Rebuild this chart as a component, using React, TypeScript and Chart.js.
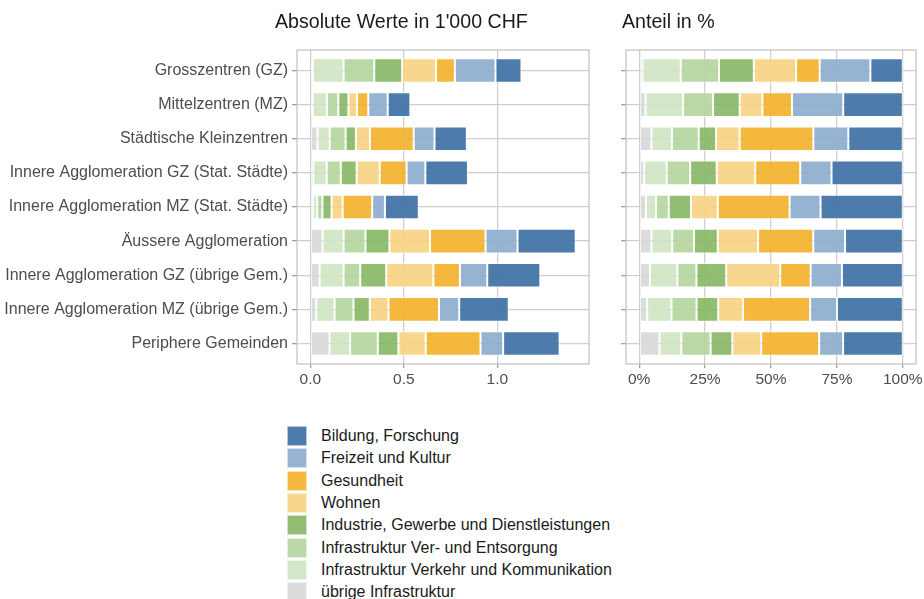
import React, { useEffect, useRef } from "react";
import { Chart, registerables } from "chart.js";

Chart.register(...registerables);

// ---------- data ----------
const categories = [
  "Grosszentren (GZ)",
  "Mittelzentren (MZ)",
  "Städtische Kleinzentren",
  "Innere Agglomeration GZ (Stat. Städte)",
  "Innere Agglomeration MZ (Stat. Städte)",
  "Äussere Agglomeration",
  "Innere Agglomeration GZ (übrige Gem.)",
  "Innere Agglomeration MZ (übrige Gem.)",
  "Periphere Gemeinden",
];

// stack order (left to right)
const seriesNames = [
  "übrige Infrastruktur",
  "Infrastruktur Verkehr und Kommunikation",
  "Infrastruktur Ver- und Entsorgung",
  "Industrie, Gewerbe und Dienstleistungen",
  "Wohnen",
  "Gesundheit",
  "Freizeit und Kultur",
  "Bildung, Forschung",
];

// values in 1'000 CHF, per category
const uebrige = [0.014, 0.013, 0.039, 0.016, 0.015, 0.066, 0.05, 0.032, 0.103];
const verkehr = [0.164, 0.076, 0.065, 0.072, 0.022, 0.112, 0.128, 0.098, 0.11];
const verEntsorgung = [0.164, 0.061, 0.085, 0.075, 0.028, 0.117, 0.089, 0.101, 0.148];
const industrie = [0.149, 0.054, 0.055, 0.085, 0.049, 0.128, 0.139, 0.087, 0.11];
const wohnen = [0.181, 0.046, 0.075, 0.123, 0.059, 0.217, 0.252, 0.1, 0.146];
const gesundheit = [0.101, 0.06, 0.234, 0.144, 0.158, 0.297, 0.142, 0.27, 0.293];
const freizeit = [0.217, 0.104, 0.111, 0.1, 0.068, 0.171, 0.146, 0.108, 0.121];
const bildung = [0.139, 0.121, 0.173, 0.228, 0.181, 0.311, 0.284, 0.265, 0.302];

const seriesValues = [uebrige, verkehr, verEntsorgung, industrie, wohnen, gesundheit, freizeit, bildung];

const seriesColors = [
  "rgba(217,217,217,0.92)",
  "rgba(209,229,196,0.92)",
  "rgba(181,214,160,0.92)",
  "rgba(136,185,103,0.92)",
  "rgba(247,210,132,0.92)",
  "rgba(242,178,45,0.92)",
  "rgba(141,174,205,0.92)",
  "rgba(66,116,167,0.94)",
];

const absTicks = [0, 0.5, 1.0];
const pctTicks = [0, 0.25, 0.5, 0.75, 1.0];

// ---------- styling ----------
const FONT = "'Liberation Sans', Arial, Helvetica, sans-serif";
const AXIS_TEXT = "#4D4D4D";
const GRID = "#CFCFCF";
const TICK = "#A0A0A0";
const FRAME = "#C0C0C0";

const totals = categories.map((_, i) => seriesValues.reduce((s, arr) => s + arr[i], 0));

const framePlugin = {
  id: "frame",
  afterDraw(chart: any) {
    const { ctx, chartArea } = chart;
    ctx.save();
    ctx.strokeStyle = FRAME;
    ctx.lineWidth = 1.2;
    ctx.strokeRect(chartArea.left, chartArea.top, chartArea.right - chartArea.left, chartArea.bottom - chartArea.top);
    ctx.restore();
  },
};

function makeConfig(percent: boolean, yWidth: number, xHeight: number, padRight: number) {
  const datasets = seriesNames.map((name, s) => ({
    label: name,
    data: categories.map((_, i) => ({
      x: percent ? seriesValues[s][i] / totals[i] : seriesValues[s][i],
      y: i,
    })),
    backgroundColor: seriesColors[s],
    borderColor: "rgba(255,255,255,0.75)",
    borderWidth: 1,
    borderSkipped: false,
    categoryPercentage: 0.72,
    barPercentage: 1,
  }));
  const xTicks = percent ? pctTicks : absTicks;
  return {
    type: "bar" as const,
    data: { datasets },
    plugins: [framePlugin],
    options: {
      indexAxis: "y" as const,
      responsive: false,
      animation: false as const,
      layout: { padding: { top: 50, left: 0, right: padRight, bottom: 0 } },
      plugins: { legend: { display: false }, tooltip: { enabled: false }, title: { display: false } },
      scales: {
        x: {
          type: "linear" as const,
          stacked: true,
          offset: false,
          min: percent ? -0.05 : -0.071,
          max: percent ? 1.05 : 1.49,
          afterBuildTicks: (scale: any) => {
            scale.ticks = xTicks.map((v) => ({ value: v }));
          },
          afterFit: (scale: any) => {
            scale.height = xHeight;
            scale.paddingLeft = 0;
            scale.paddingRight = 0;
          },
          ticks: {
            color: AXIS_TEXT,
            font: { family: FONT, size: 15.5 },
            padding: 2,
            maxRotation: 0,
            autoSkip: false,
            callback: (v: any) => (percent ? Math.round(Number(v) * 100) + "%" : Number(v).toFixed(1)),
          },
          grid: { offset: false, color: GRID, lineWidth: 1.3, tickLength: 4, tickColor: TICK },
          border: { display: false },
        },
        y: {
          type: "linear" as const,
          stacked: true,
          reverse: true,
          offset: false,
          min: -0.6,
          max: categories.length - 0.4,
          afterBuildTicks: (scale: any) => {
            scale.ticks = categories.map((_, i) => ({ value: i }));
          },
          afterFit: (scale: any) => {
            scale.width = yWidth;
            scale.paddingTop = 0;
            scale.paddingBottom = 0;
          },
          ticks: {
            color: AXIS_TEXT,
            font: { family: FONT, size: 16 },
            padding: 4,
            autoSkip: false,
            callback: (v: any) => (percent ? "" : categories[Number(v)]),
          },
          grid: { offset: false, color: GRID, lineWidth: 1.3, tickLength: 5, tickColor: TICK },
          border: { display: false },
        },
      },
    },
  };
}

function BarPanel(props: { percent: boolean; left: number; width: number; yWidth: number; padRight: number }) {
  const ref = useRef<HTMLCanvasElement>(null);
  useEffect(() => {
    if (!ref.current) return;
    const chart = new Chart(ref.current, makeConfig(props.percent, props.yWidth, 36, props.padRight) as any);
    return () => chart.destroy();
  }, []);
  return (
    <canvas
      ref={ref}
      width={props.width}
      height={400}
      style={{ position: "absolute", left: props.left, top: 0, width: props.width, height: 400 }}
    />
  );
}

export default function App() {
  const legendOrder = seriesNames.map((_, i) => i).reverse();
  return (
    <div
      style={{
        position: "absolute",
        left: 0,
        top: 0,
        width: 924,
        height: 599,
        background: "#ffffff",
        overflow: "hidden",
        fontFamily: FONT,
      }}
    >
      <BarPanel percent={false} left={0} width={600} yWidth={297} padRight={11} />
      <BarPanel percent={true} left={600} width={324} yWidth={26} padRight={8} />
      <div
        style={{
          position: "absolute",
          left: 275,
          top: 12,
          fontSize: 19.6,
          lineHeight: "19px",
          color: "#1A1A1A",
          whiteSpace: "nowrap",
        }}
      >
        Absolute Werte in 1'000 CHF
      </div>
      <div
        style={{
          position: "absolute",
          left: 622,
          top: 12,
          fontSize: 19.6,
          lineHeight: "19px",
          color: "#1A1A1A",
          whiteSpace: "nowrap",
        }}
      >
        Anteil in %
      </div>
      <div style={{ position: "absolute", left: 287, top: 425 }}>
        {legendOrder.map((s) => (
          <div key={s} style={{ display: "flex", alignItems: "center", height: 22.3 }}>
            <div
              style={{
                width: 20,
                height: 20,
                background: seriesColors[s],
                boxSizing: "border-box",
                border: "1px solid rgba(255,255,255,0.6)",
              }}
            />
            <div style={{ marginLeft: 14, fontSize: 16, color: "#1A1A1A", whiteSpace: "nowrap" }}>
              {seriesNames[s]}
            </div>
          </div>
        ))}
      </div>
    </div>
  );
}
